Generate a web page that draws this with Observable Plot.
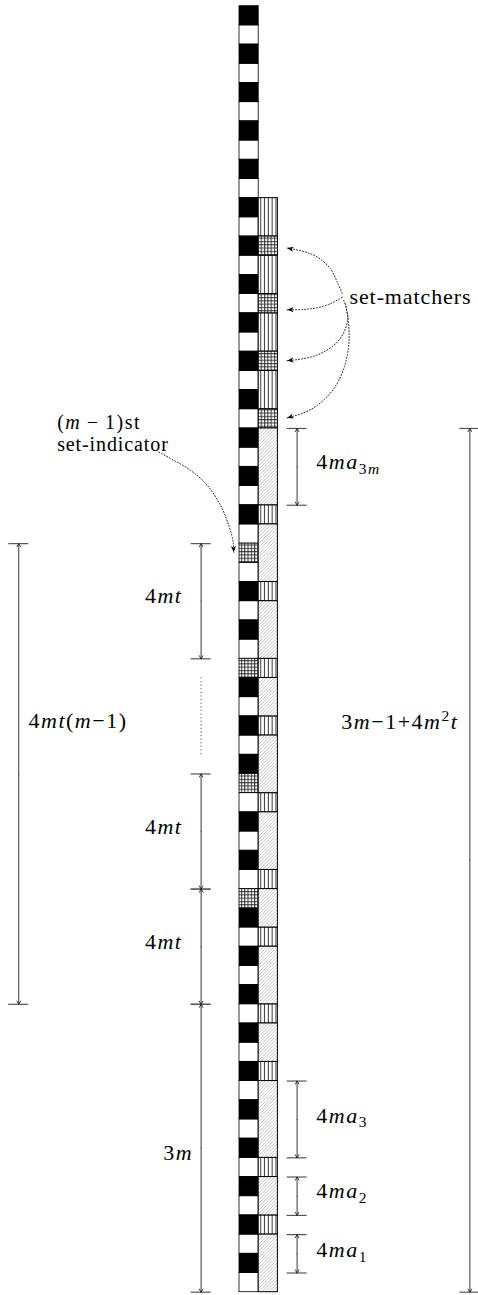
<!DOCTYPE html>
<html><head><meta charset="utf-8">
<script src="https://cdn.jsdelivr.net/npm/d3@7"></script>
<script src="https://cdn.jsdelivr.net/npm/@observablehq/plot@0.6"></script>
<style>
html,body{margin:0;padding:0;background:#fff;}
#chart svg{display:block;}
#chart svg text{font-family:"Liberation Serif","Times New Roman",serif;}
#chart text.math{letter-spacing:1.5px;}
#chart text.prose{letter-spacing:0.9px;}
#chart text.note{letter-spacing:1.4px;}
</style>
</head><body><div id="chart"></div>
<script>
// ---------- data (cell units: one cell = one unit, y counted from the top) ----------
// Left column, cells 0..66: B black, W white, G grid (set-indicator)
const leftColumn = [
  "BWBWBWBWBWBWBWBWBWBWBWBWBWBW",   // cells 0-27
  "G", "WBWBW", "G", "BWBWB", "G", "WBWBW", "G",
  "BWBWBWBWBWBWBWBWBWBW"            // cells 47-66
].join("").split("");

// Right column, cells 10..66: V vertical lines, G grid (set-matcher), H hatched
const rightStart = 10;
const rightColumn = [
  "VVGVVGVVGVVG", "HHHH", "V", "HHH", "V", "HHH", "V", "HH", "V", "HHH", "V",
  "HHH", "V", "HH", "V", "HHH", "V", "HH", "V", "HHHH", "V", "HH", "V", "HHH"
].join("").split("");

// dimension lines: lane, first cell boundary, last cell boundary
const laneX = {outerLeft: -11.5, innerLeft: -2, innerRight: 3, outerRight: 12};
const dimensions = [
  {lane: "innerRight", from: 22, to: 26},
  {lane: "innerRight", from: 56, to: 60},
  {lane: "innerRight", from: 61, to: 63},
  {lane: "innerRight", from: 64, to: 66},
  {lane: "innerLeft", from: 28, to: 34},
  {lane: "innerLeft", from: 40, to: 46},
  {lane: "innerLeft", from: 46, to: 52},
  {lane: "innerLeft", from: 52, to: 67},
  {lane: "outerLeft", from: 28, to: 52},
  {lane: "outerRight", from: 22, to: 67}
];
const ellipsis = [{lane: "innerLeft", from: 35, to: 39}];

// labels ($...$ = math: italic letters, _ subscript, ^ superscript)
const labelsStart = [
  {text: "$4ma_{3m}$", x: 4.0, y: 23.74},
  {text: "$4ma_3$", x: 4.0, y: 57.8},
  {text: "$4ma_2$", x: 4.0, y: 61.73},
  {text: "$4ma_1$", x: 4.0, y: 64.8},
  {text: "$4mt(m−1)$", x: -10.99, y: 37.25},
  {text: "set-matchers", x: 5.73, y: 15.17}
];
const indicatorNote = [
  {text: "$(m\u2009−\u20091)$st", x: -9.5, y: 21.69},
  {text: "set-indicator", x: -9.5, y: 22.86}
];
const labelsEnd = [
  {text: "$4mt$", x: -2.97, y: 30.72},
  {text: "$4mt$", x: -2.97, y: 42.78},
  {text: "$4mt$", x: -2.97, y: 48.77},
  {text: "$3m$", x: -2.41, y: 59.77},
  {text: "$3m−1+4m^2t$", x: 11.4, y: 37.3}
];

// dotted pointer curves (x in column widths from the left column's edge, y in cells)
const pointerCurves = [
  [[5.35,14.96],[5.09,14.37],[4.74,13.68],[4.05,13.07],[3.35,12.78],[2.48,12.6]],
  [[5.35,15.16],[4.74,15.5],[4.05,15.71],[3.35,15.8],[2.48,15.82]],
  [[5.43,15.33],[5.64,16.11],[5.52,16.8],[5.09,17.5],[4.22,18.1],[3.35,18.36],[2.48,18.47]],
  [[5.52,15.5],[5.69,16.63],[5.69,17.67],[5.43,18.89],[4.91,19.93],[4.05,20.8],[3.35,21.18],[2.48,21.45]],
  [[-4.2,23.23],[-3.42,23.66],[-2.55,24.18],[-1.68,24.96],[-0.99,26.0],[-0.56,27.05],[-0.33,27.92],[-0.3,28.45]]
];

// ---------- derived tables ----------
const leftCells = leftColumn.map((t, i) => ({t, i}));
const rightBlocks = [];
rightColumn.forEach((t, k) => {
  const i = rightStart + k;
  const last = rightBlocks[rightBlocks.length - 1];
  if (last && last.t === t && t !== "G") last.to = i + 1;
  else rightBlocks.push({t, from: i, to: i + 1});
});
const dimArrows = dimensions.flatMap(d => {
  const mid = (d.from + d.to) / 2, x = laneX[d.lane];
  return [{x, a: mid, b: d.from}, {x, a: mid, b: d.to}];
});
const dimTicks = dimensions.flatMap(d => [{x: laneX[d.lane], y: d.from}, {x: laneX[d.lane], y: d.to}]);
const curvePoints = pointerCurves.flatMap((c, id) => c.map(([x, y]) => ({id, x, y})));
const heads = pointerCurves.map(c => {
  const [x0, y0] = c[c.length - 2], [x1, y1] = c[c.length - 1];
  return {x: x1, y: y1, angle: Math.atan2(x1 - x0, -(y1 - y0)) * 180 / Math.PI};
});
const stealth = {
  draw(ctx, size) {
    const L = Math.sqrt(size / Math.PI), w = L * 0.4;
    ctx.moveTo(0, 0); ctx.lineTo(w, L); ctx.lineTo(0, L * 0.7); ctx.lineTo(-w, L); ctx.closePath();
  }
};

const cellRect = (data, opts) => Plot.rect(data, Object.assign({
  x1: () => 0, x2: () => 1, y1: d => d.i, y2: d => d.i + 1, stroke: "#000", strokeWidth: 0.8
}, opts));
const blockRect = (t, fill) => Plot.rect(rightBlocks, {
  filter: d => d.t === t, x1: () => 1, x2: () => 2, y1: d => d.from, y2: d => d.to,
  fill, stroke: "#000", strokeWidth: 1
});
const serif = "Liberation Serif";

const chart = Plot.plot({
  width: 478, height: 1295,
  marginTop: 5.7, marginBottom: 3.3, marginLeft: 0, marginRight: 0,
  x: {domain: [-12.45, 12.45], axis: null},
  y: {domain: [0, 67], reverse: true, axis: null},
  style: {background: "#fff", color: "#000", fontFamily: serif},
  marks: [
    cellRect(leftCells, {filter: d => d.t === "W", fill: "#fff"}),
    cellRect(leftCells, {filter: d => d.t === "B", fill: "#000"}),
    cellRect(leftCells, {filter: d => d.t === "G", fill: "url(#gridpat)"}),
    blockRect("V", "url(#vpat)"),
    blockRect("G", "url(#gridpat)"),
    blockRect("H", "url(#hatchpat)"),
    Plot.ruleY(dimTicks, {y: "y", x1: d => d.x - 0.52, x2: d => d.x + 0.52, stroke: "#555", strokeWidth: 1.2}),
    Plot.arrow(dimArrows, {x1: "x", x2: "x", y1: "a", y2: "b", stroke: "#222", strokeWidth: 0.9, headLength: 6, headAngle: 60}),
    Plot.ruleX(ellipsis, {x: d => laneX[d.lane], y1: "from", y2: "to", stroke: "#333", strokeWidth: 1, strokeDasharray: "1,2.6"}),
    Plot.line(curvePoints, {x: "x", y: "y", z: "id", curve: "catmull-rom", stroke: "#222", strokeWidth: 1, strokeDasharray: "1,2"}),
    Plot.dot(heads, {x: "x", y: "y", rotate: "angle", symbol: stealth, r: 6.5, fill: "#000", stroke: "none"}),
    Plot.text(labelsStart, {x: "x", y: "y", text: "text", textAnchor: "start", fontSize: 22, fontFamily: serif}),
    Plot.text(labelsEnd, {x: "x", y: "y", text: "text", textAnchor: "end", fontSize: 22, fontFamily: serif}),
    Plot.text(indicatorNote, {x: "x", y: "y", text: "text", textAnchor: "start", fontSize: 20, fontFamily: serif, ariaLabel: "note"})
  ]
});

d3.select(chart).insert("defs", ":first-child").html(`
  <pattern id="vpat" patternUnits="userSpaceOnUse" width="3.8" height="10">
    <rect width="3.8" height="10" fill="#fff"/>
    <line x1="2.3" y1="0" x2="2.3" y2="10" stroke="#222" stroke-width="0.95"/>
  </pattern>
  <pattern id="gridpat" patternUnits="userSpaceOnUse" width="3.3" height="3.3">
    <rect width="3.3" height="3.3" fill="#fff"/>
    <path d="M0.6,0V3.3M0,0.6H3.3" stroke="#111" stroke-width="0.85"/>
  </pattern>
  <pattern id="hatchpat" patternUnits="userSpaceOnUse" width="3.4" height="3.4">
    <rect width="3.4" height="3.4" fill="#fff"/>
    <path d="M0,3.4L3.4,0M-0.85,0.85L0.85,-0.85M2.55,4.25L4.25,2.55" stroke="#8c8c8c" stroke-width="0.55"/>
  </pattern>`);

// rich text: math italics, subscripts, superscripts as tspans
const NS = "http://www.w3.org/2000/svg";
function parse(src) {
  const segs = []; let math = false;
  const push = (text, italic, shift) => {
    const last = segs[segs.length - 1];
    if (last && last.italic === italic && last.shift === shift) last.text += text;
    else segs.push({text, italic, shift});
  };
  for (let k = 0; k < src.length; k++) {
    const c = src[k];
    if (c === "$") { math = !math; continue; }
    if (math && (c === "_" || c === "^")) {
      let grp;
      if (src[k + 1] === "{") { const e = src.indexOf("}", k); grp = src.slice(k + 2, e); k = e; }
      else { grp = src[k + 1]; k++; }
      for (const g of grp) push(g, /[a-z]/i.test(g), c === "_" ? "sub" : "sup");
      continue;
    }
    push(c, math && /[a-z]/i.test(c), "");
  }
  return segs;
}
d3.select(chart).selectAll("text").each(function() {
  const src = this.textContent;
  const isNote = this.parentNode.getAttribute("aria-label") === "note";
  if (isNote) this.classList.add("note");
  if (!src.includes("$")) { if (!isNote) this.classList.add("prose"); return; }
  if (!isNote) this.classList.add("math");
  this.textContent = "";
  let cur = 0;
  for (const s of parse(src)) {
    const t = document.createElementNS(NS, "tspan");
    t.textContent = s.text;
    if (s.italic) t.setAttribute("font-style", "italic");
    const target = s.shift === "sub" ? 4.6 : s.shift === "sup" ? -8 : 0;
    if (s.shift) t.setAttribute("font-size", "15.5");
    if (target !== cur) t.setAttribute("dy", target - cur);
    cur = target;
    this.appendChild(t);
  }
});

document.getElementById("chart").appendChild(chart);
</script>
</body></html>
